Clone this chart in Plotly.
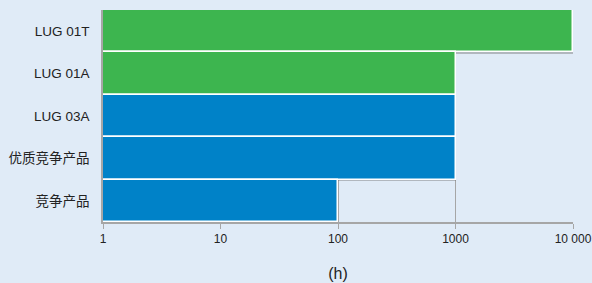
import plotly.graph_objects as go

categories = ["LUG 01T", "LUG 01A", "LUG 03A", "优质竞争产品", "竞争产品"]
hours = [10000, 1000, 1000, 1000, 100]
bar_colors = ["#3DB54F", "#3DB54F", "#0082C8", "#0082C8", "#0082C8"]
tick_values = [1, 10, 100, 1000, 10000]
tick_labels = ["1", "10", "100", "1000", "10 000"]

FONT = "Arial, Liberation Sans, Noto Sans CJK SC, sans-serif"

fig = go.Figure()
# soft shadow under bars
fig.add_trace(go.Bar(
    y=categories, x=hours, orientation="h",
    marker=dict(color="rgba(120,120,120,0.45)", line=dict(width=0)),
    width=1.0, offset=-0.47, hoverinfo="skip", showlegend=False,
))
fig.add_trace(go.Bar(
    y=categories, x=hours, orientation="h",
    marker=dict(color=bar_colors, line=dict(color="white", width=1.5)),
    width=1.0, showlegend=False,
))

fig.update_layout(
    width=592, height=283,
    margin=dict(l=103, r=19, t=10, b=61),
    paper_bgcolor="#E0EBF7", plot_bgcolor="#E0EBF7",
    barmode="overlay", bargap=0,
    font=dict(family=FONT, size=13.5, color="#222222"),
)
fig.update_xaxes(
    type="log", range=[0, 4], automargin=False,
    tickvals=tick_values, ticktext=tick_labels,
    tickfont=dict(size=12),
    showgrid=True, gridcolor="#A6A6A6", gridwidth=1,
    showline=True, linecolor="#A6A6A6", linewidth=1.5,
    ticks="outside", ticklen=5, tickcolor="#A6A6A6",
    title=dict(text="(h)", font=dict(size=16, color="#222222", family=FONT), standoff=23),
    zeroline=False,
)
fig.update_yaxes(
    categoryorder="array", categoryarray=categories, automargin=False,
    showline=True, linecolor="#A6A6A6", linewidth=1.5,
    showgrid=False, ticks="", ticklabelstandoff=9,
    range=[4.5, -0.5],
)

fig.write_html("out.html", config={"responsive": False, "displayModeBar": False},
               post_script="document.body.style.margin='0';document.body.style.background='#E0EBF7';")
